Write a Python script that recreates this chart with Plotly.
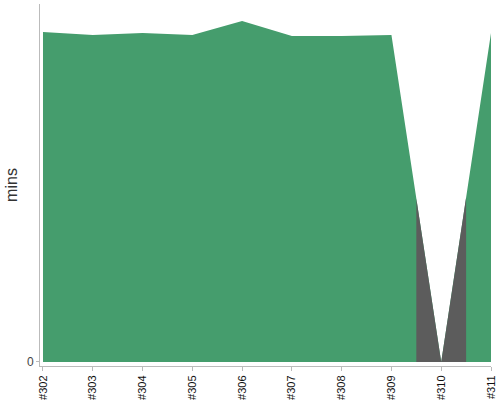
import plotly.graph_objects as go

builds = ["#302", "#303", "#304", "#305", "#306", "#307", "#308", "#309", "#310", "#311"]
durations = [9.71, 9.62, 9.68, 9.62, 10.03, 9.59, 9.59, 9.62, 0.0, 9.68]
statuses = ["success", "success", "success", "success", "success",
            "success", "success", "success", "aborted", "success"]
y_tick_vals = [0]
y_tick_text = ["0"]

GREEN = "#459d6d"
GRAY = "#5c5c5c"

idx = list(range(len(builds)))
fig = go.Figure()
fig.add_trace(go.Scatter(x=idx, y=durations, mode="lines", fill="tozeroy",
                         fillcolor=GREEN, line=dict(width=0, color=GREEN),
                         hoverinfo="skip", showlegend=False))

# overlay segments for builds that are not successful (half-way to neighbours)
n = len(durations)
for i, s in enumerate(statuses):
    if s == "success":
        continue
    xs, ys = [], []
    if i > 0:
        xs.append(i - 0.5)
        ys.append((durations[i - 1] + durations[i]) / 2)
    xs.append(i)
    ys.append(durations[i])
    if i < n - 1:
        xs.append(i + 0.5)
        ys.append((durations[i + 1] + durations[i]) / 2)
    fig.add_trace(go.Scatter(x=xs, y=ys, mode="lines", fill="tozeroy",
                             fillcolor=GRAY, line=dict(width=0, color=GRAY),
                             hoverinfo="skip", showlegend=False))

fig.update_layout(
    width=500, height=400,
    margin=dict(l=40, r=9, t=4, b=34),
    plot_bgcolor="white", paper_bgcolor="white",
    font=dict(family="Liberation Sans", color="#333"),
)
fig.update_xaxes(
    range=[-0.06, 9.0], tickmode="array", tickvals=idx, ticktext=builds,
    tickangle=-90, tickfont=dict(size=11, color="#111"),
    showline=True, linecolor="#bbb", linewidth=1,
    ticks="outside", ticklen=4, tickcolor="#bbb",
    showgrid=False, zeroline=False, automargin=False,
)
fig.update_yaxes(
    range=[-0.118, 10.53], tickmode="array", tickvals=y_tick_vals, ticktext=y_tick_text,
    tickfont=dict(size=12, color="#444"),
    showline=True, linecolor="#bbb", linewidth=1,
    ticks="outside", ticklen=3, tickcolor="#bbb",
    showgrid=False, zeroline=False, automargin=False,
    title=dict(text="mins", font=dict(size=16, color="#333"), standoff=5),
)
fig.write_html("out.html", config={"displayModeBar": False},
               post_script="document.body.style.margin='0';document.body.style.overflow='hidden';")
